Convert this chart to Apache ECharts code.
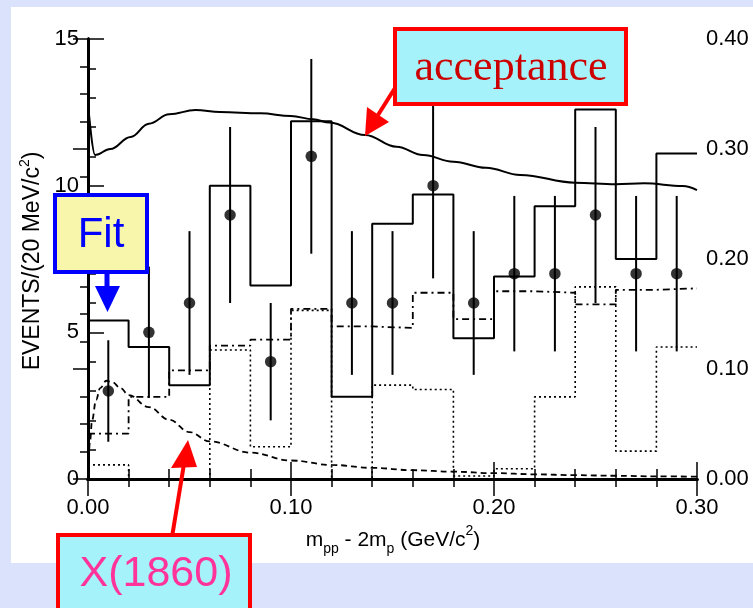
<!DOCTYPE html>
<html>
<head>
<meta charset="utf-8">
<script src="https://cdn.jsdelivr.net/npm/echarts@6/dist/echarts.min.js"></script>
<style>html,body{margin:0;padding:0;background:#dae3fb;}#c{width:753px;height:608px;}</style>
</head>
<body>
<div id="c"></div>
<script>
// ---- data ----
const binEdges = [0.00,0.02,0.04,0.06,0.08,0.10,0.12,0.14,0.16,0.18,0.20,0.22,0.24,0.26,0.28,0.30];
const binCenters = [0.01,0.03,0.05,0.07,0.09,0.11,0.13,0.15,0.17,0.19,0.21,0.23,0.25,0.27,0.29];
const events = [3,5,6,9,4,11,6,6,10,6,7,7,9,7,7];
const eventErrors = [1.73,2.24,2.45,3.0,2.0,3.32,2.45,2.45,3.16,2.45,2.65,2.65,3.0,2.65,2.65];
const fitTotal = [5.4,4.5,3.2,10.0,6.6,12.2,2.8,8.7,9.7,4.8,6.9,9.3,12.6,7.5,11.1];
const bkgDashDot = [1.55,2.8,3.7,4.55,4.75,5.8,5.2,5.15,6.35,5.45,6.4,6.35,5.95,6.45,6.5];
const bkgDotted = [0.48,0,0,4.4,1.1,5.75,0,3.2,3.05,0.1,0.35,2.8,6.55,0.95,4.5];
const signalX = [0,0.001,0.002,0.004,0.006,0.009,0.012,0.016,0.02,0.03,0.04,0.05,0.06,0.08,0.10,0.12,0.14,0.16,0.18,0.20,0.22,0.24,0.26,0.28,0.30];
const signalY = [0,1.3,2.0,2.7,3.1,3.35,3.3,3.1,2.86,2.45,2.02,1.6,1.28,0.9,0.63,0.48,0.38,0.3,0.25,0.2,0.16,0.13,0.11,0.09,0.08];
const accX = [0,0.0035,0.011,0.021,0.03,0.04,0.053,0.065,0.085,0.1,0.111,0.119,0.1365,0.152,0.165,0.18,0.196,0.213,0.24,0.26,0.274,0.293,0.30];
const accY = [0.342,0.2945,0.300,0.311,0.323,0.3315,0.3355,0.3336,0.3324,0.330,0.327,0.324,0.3127,0.302,0.2945,0.2885,0.283,0.2764,0.2694,0.268,0.2688,0.2664,0.2627];

function hist(vals){
  const d = vals.map((v,i)=>[binEdges[i], v]);
  d.push([binEdges[binEdges.length-1], vals[vals.length-1]]);
  return d;
}
const FONT = "'Liberation Sans', Arial, sans-serif";
const chart = echarts.init(document.getElementById('c'));
const axisLine = {show:true, lineStyle:{color:'#000', width:3}};
const tickStyle = {color:'#000', width:1.5};
const G = {left:88, right:56, top:39, bottom:129, containLabel:false};
function ax(extra){
  return Object.assign({type:'value', axisLine:axisLine, splitLine:{show:false}}, extra);
}
const option = {
  backgroundColor:'#dae3fb',
  animation:false,
  grid:[Object.assign({}, G), Object.assign({}, G)],
  xAxis:[
    // grid 0 : minor ticks
    ax({gridIndex:0, min:0, max:0.3, interval:0.02, position:'bottom',
        axisTick:{inside:true, length:10, lineStyle:tickStyle}, axisLabel:{show:false}}),
    ax({gridIndex:0, min:0, max:0.3, interval:0.02, position:'top',
        axisTick:{inside:true, length:8, lineStyle:tickStyle}, axisLabel:{show:false}}),
    // grid 1 : major ticks + labels
    ax({gridIndex:1, min:0, max:0.3, interval:0.1, position:'bottom',
        axisTick:{inside:true, length:17, lineStyle:tickStyle},
        axisLabel:{fontSize:22, color:'#000', fontFamily:FONT, margin:18, formatter:v=>v.toFixed(2)}}),
    ax({gridIndex:1, min:0, max:0.3, interval:0.1, position:'top',
        axisTick:{inside:true, length:17, lineStyle:tickStyle}, axisLabel:{show:false}})
  ],
  yAxis:[
    ax({gridIndex:0, min:0, max:15, interval:1, position:'left',
        axisTick:{inside:true, length:8, lineStyle:tickStyle}, axisLabel:{show:false}}),
    ax({gridIndex:0, min:0, max:0.4, interval:0.025, position:'right',
        axisTick:{inside:true, length:8, lineStyle:tickStyle}, axisLabel:{show:false}}),
    ax({gridIndex:1, min:0, max:15, interval:5, position:'left',
        axisTick:{inside:true, length:16, lineStyle:tickStyle},
        axisLabel:{fontSize:22, color:'#000', fontFamily:FONT, margin:9}}),
    ax({gridIndex:1, min:0, max:0.4, interval:0.1, position:'right',
        axisTick:{inside:true, length:15, lineStyle:tickStyle},
        axisLabel:{fontSize:22, color:'#000', fontFamily:FONT, margin:9, formatter:v=>v.toFixed(2)}})
  ],
  series:[
    {type:'line', xAxisIndex:0, yAxisIndex:0, step:'end', data:hist(bkgDotted), showSymbol:false, symbol:'none', z:2,
     lineStyle:{color:'#000', width:1.6, type:[2,3]}},
    {type:'line', xAxisIndex:0, yAxisIndex:0, step:'end', data:hist(bkgDashDot), showSymbol:false, symbol:'none', z:2,
     lineStyle:{color:'#000', width:1.8, type:[7,4,2,4]}},
    {type:'line', xAxisIndex:0, yAxisIndex:0, step:'end', data:hist(fitTotal), showSymbol:false, symbol:'none', z:3,
     lineStyle:{color:'#000', width:2}},
    {type:'line', xAxisIndex:0, yAxisIndex:0, smooth:0.4, smoothMonotone:'x', data:signalX.map((x,i)=>[x,signalY[i]]), showSymbol:false, symbol:'none', z:3,
     lineStyle:{color:'#000', width:1.8, type:[6,4]}},
    {type:'line', xAxisIndex:0, yAxisIndex:1, smooth:0.4, smoothMonotone:'x', data:accX.map((x,i)=>[x,accY[i]]), showSymbol:false, symbol:'none', z:3,
     lineStyle:{color:'#000', width:2}},
    {type:'custom', xAxisIndex:0, yAxisIndex:0, z:4, data:binCenters.map((x,i)=>[x, events[i], eventErrors[i]]),
     encode:{x:0, y:1},
     renderItem:function(params, api){
       const x=api.value(0), y=api.value(1), e=api.value(2);
       const p1=api.coord([x,y+e]), p2=api.coord([x,y-e]);
       return {type:'line', shape:{x1:p1[0],y1:p1[1],x2:p2[0],y2:p2[1]}, style:{stroke:'#000', lineWidth:2}};
     }},
    {type:'scatter', xAxisIndex:0, yAxisIndex:0, z:5, symbol:'circle', symbolSize:11.5, itemStyle:{color:'#000'},
     data:binCenters.map((x,i)=>[x, events[i]])}
  ],
  graphic:[
    {type:'rect', z:-10, shape:{x:11, y:7, width:742, height:556}, style:{fill:'#ffffff'}, silent:true},
    // y axis title
    {type:'text', z:10, x:31, y:261, rotation:Math.PI/2,
     style:{text:'{a|EVENTS/(20 MeV/c}{s|2}{a|)}', align:'center', verticalAlign:'middle',
       rich:{a:{fontSize:23, fontFamily:FONT, fill:'#000', lineHeight:26, verticalAlign:'bottom'},
             s:{fontSize:14, fontFamily:FONT, fill:'#000', lineHeight:26, verticalAlign:'top'}}}},
    // x axis title
    {type:'text', z:10, x:393, y:540,
     style:{text:'{a|m}{b|pp}{a| - 2m}{b|p}{a| (GeV/c}{s|2}{a|)}', align:'center', verticalAlign:'middle',
       rich:{a:{fontSize:21, fontFamily:FONT, fill:'#000', lineHeight:24, verticalAlign:'middle'},
             b:{fontSize:14, fontFamily:FONT, fill:'#000', lineHeight:14, verticalAlign:'bottom', padding:[0,0,-4,0]},
             s:{fontSize:14, fontFamily:FONT, fill:'#000', lineHeight:14, verticalAlign:'top', padding:[-4,0,0,0]}}}},
    // acceptance annotation
    {type:'line', z:50, shape:{x1:395, y1:88, x2:378, y2:115}, style:{stroke:'#ff0000', lineWidth:4}},
    {type:'polygon', z:50, shape:{points:[[365,136],[389,122],[367,107]]}, style:{fill:'#ff0000'}},
    {type:'rect', z:60, shape:{x:395, y:29, width:231, height:75}, style:{fill:'#a5f2fa', stroke:'#ff0000', lineWidth:4}},
    {type:'text', z:61, x:511, y:68, style:{text:'acceptance', fontSize:44, fontFamily:"'Liberation Serif','Times New Roman',serif", fill:'#cc0000', align:'center', verticalAlign:'middle'}},
    // Fit annotation
    {type:'line', z:50, shape:{x1:107, y1:272, x2:107, y2:288}, style:{stroke:'#0000ff', lineWidth:5}},
    {type:'polygon', z:50, shape:{points:[[95,286],[120,286],[107.5,312]]}, style:{fill:'#0000ff'}},
    {type:'rect', z:60, shape:{x:55, y:195, width:92, height:77}, style:{fill:'#f8f6aa', stroke:'#0000ff', lineWidth:4}},
    {type:'text', z:61, x:101, y:235, style:{text:'Fit', fontSize:42, fontFamily:FONT, fill:'#0000ff', align:'center', verticalAlign:'middle'}},
    // X(1860) annotation
    {type:'line', z:50, shape:{x1:172, y1:537, x2:184, y2:464}, style:{stroke:'#ff0000', lineWidth:4}},
    {type:'polygon', z:50, shape:{points:[[188,440],[197,467],[171,468]]}, style:{fill:'#ff0000'}},
    {type:'rect', z:60, shape:{x:58, y:535, width:192, height:90}, style:{fill:'#a5f2fa', stroke:'#ff0000', lineWidth:4}},
    {type:'text', z:61, x:156, y:574, style:{text:'X(1860)', fontSize:43, fontFamily:FONT, fill:'#ff3399', align:'center', verticalAlign:'middle'}}
  ]
};
chart.setOption(option);
</script>
</body>
</html>
